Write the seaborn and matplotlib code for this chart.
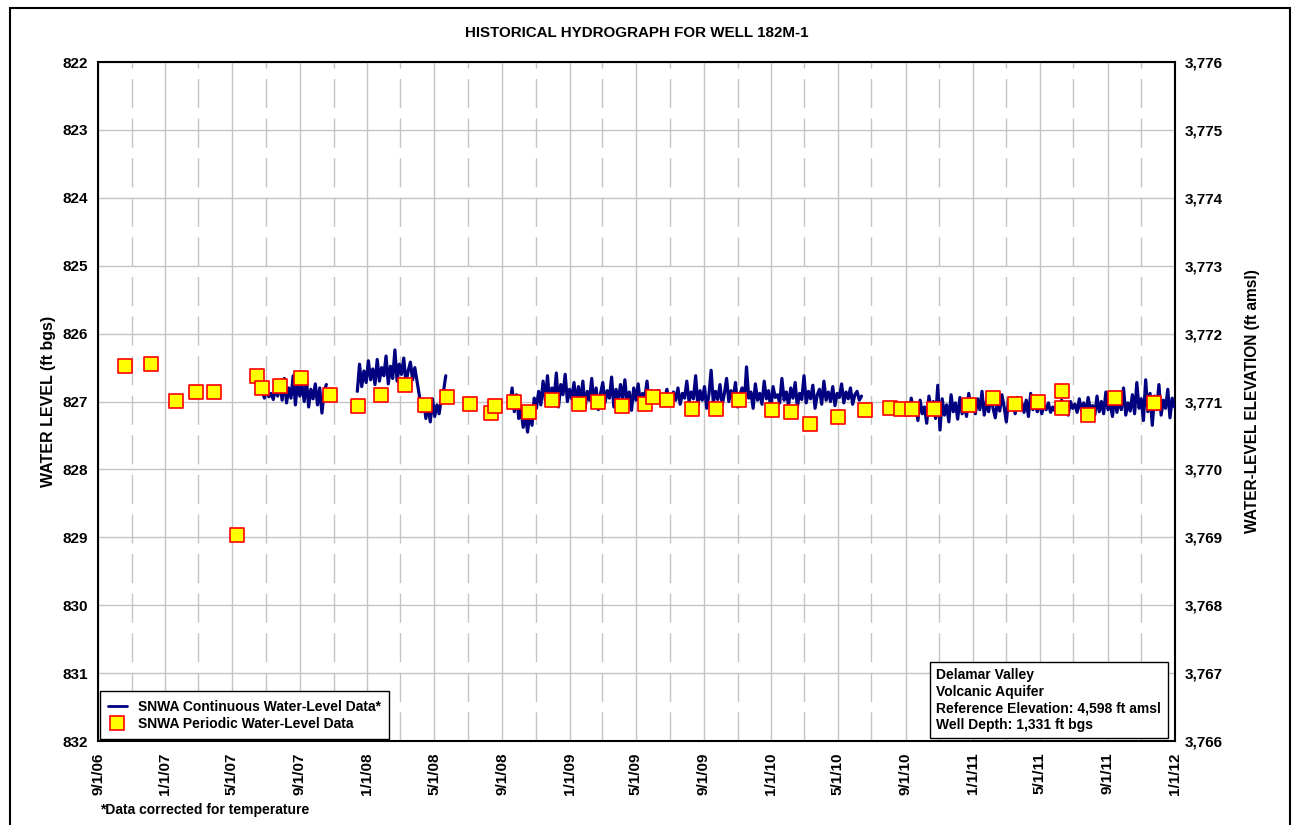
import numpy as np
import pandas as pd
import seaborn as sns
import matplotlib.pyplot as plt
import matplotlib.dates as mdates
from matplotlib.lines import Line2D
from matplotlib.patches import Rectangle
from matplotlib.ticker import FuncFormatter, FixedLocator

sns.set_style('white')
plt.rcParams['font.family'] = ['Liberation Sans', 'DejaVu Sans']
plt.rcParams['font.weight'] = 'bold'
for key in ['text.color', 'axes.labelcolor', 'xtick.color', 'ytick.color']:
    plt.rcParams[key] = 'black'

ref_elevation = 4598

# periodic (manual) water-level measurements, ft bgs
periodic_dates = [
    '2006-10-20', '2006-12-05', '2007-01-20', '2007-02-25', '2007-03-29',
    '2007-05-10', '2007-06-15', '2007-06-25', '2007-07-27', '2007-09-03',
    '2007-10-26', '2007-12-16', '2008-01-25', '2008-03-10', '2008-04-14',
    '2008-05-25', '2008-07-04', '2008-08-11', '2008-08-19', '2008-09-22',
    '2008-10-19', '2008-12-01', '2009-01-18', '2009-02-22', '2009-04-06',
    '2009-05-18', '2009-06-01', '2009-06-27', '2009-08-10', '2009-09-22',
    '2009-11-03', '2010-01-02', '2010-02-06', '2010-03-12', '2010-05-01',
    '2010-06-19', '2010-08-03', '2010-08-24', '2010-09-12', '2010-10-22',
    '2010-12-24', '2011-02-06', '2011-03-18', '2011-04-28', '2011-06-10',
    '2011-06-10', '2011-07-28', '2011-09-15', '2011-11-25',
]
periodic_levels = [
    826.47, 826.45, 826.99, 826.86, 826.86,
    828.97, 826.62, 826.80, 826.77, 826.65,
    826.90, 827.07, 826.90, 826.76, 827.05,
    826.93, 827.04, 827.17, 827.07, 827.00,
    827.16, 826.98, 827.04, 827.01, 827.06,
    827.04, 826.93, 826.98, 827.11, 827.11,
    826.98, 827.13, 827.16, 827.33, 827.23,
    827.13, 827.10, 827.11, 827.11, 827.11,
    827.05, 826.95, 827.04, 827.00, 826.85,
    827.10, 827.20, 826.95, 827.02,
]

# continuous transducer record, read every 4 days, in four deployments
seg_step = '4D'
seg1_start = '2007-06-25'
seg1_levels = [
    826.85, 826.95, 826.82, 826.93, 826.88, 826.97, 826.80, 826.92,
    826.72, 826.98, 826.66, 827.02, 826.80, 826.95, 826.62, 827.05,
    826.70, 826.92, 826.76, 827.00, 826.68, 827.08, 826.82, 826.96,
    826.74, 827.05, 826.80, 827.17, 826.85, 826.75,
]
seg2_start = '2007-12-14'
seg2_levels = [
    826.85, 826.45, 826.78, 826.55, 826.72, 826.40, 826.68, 826.52,
    826.75, 826.38, 826.70, 826.50, 826.62, 826.33, 826.74, 826.48,
    826.66, 826.24, 826.70, 826.45, 826.60, 826.36, 826.72, 826.55,
    826.42, 826.68, 826.50, 826.70,
    826.90, 827.15, 826.98, 827.25, 827.05, 827.30, 826.96, 827.22,
    827.05, 827.18, 826.95, 826.85, 826.62,
]
seg3_start = '2008-09-15'
seg3_levels = [
    827.05, 826.80, 827.15, 826.90, 827.25, 827.10, 827.38, 827.20,
    827.45, 827.15, 827.35, 826.95,
    827.10, 826.85, 827.05, 826.70, 826.98, 826.62, 827.02, 826.80,
    826.95, 826.58, 827.08, 826.75, 826.90, 826.60, 827.00, 826.82,
    826.96, 826.72, 827.04,
    826.78, 827.00, 826.70, 827.10, 826.85, 826.98, 826.66, 827.05,
    826.80, 827.12, 826.88, 826.72, 827.02, 826.84, 826.95, 826.64,
    827.08, 826.82, 827.00, 826.75, 826.96, 826.68, 827.04, 826.86,
    827.13, 826.80, 826.98, 826.74, 827.02, 826.88, 826.96, 826.70,
    827.05, 826.84,
    826.88, 826.98, 826.84, 827.00, 826.90, 826.96, 826.82, 827.02,
    826.92, 826.86, 826.98, 826.80, 827.04, 826.88, 826.95, 826.70,
    827.00, 826.86, 826.96, 826.62, 827.06, 826.84, 826.98, 826.78,
    827.10, 826.90, 826.54, 827.02, 826.85, 826.97, 826.75, 827.05,
    826.88, 826.66, 827.00, 826.84, 826.96, 826.72, 827.08, 826.90,
    826.80, 827.02, 826.49, 826.95, 826.86, 827.10, 826.74, 826.98,
    826.88, 827.04, 826.70, 826.96, 826.84, 827.12, 826.78, 826.94,
    826.90, 827.02, 826.66, 826.98, 826.86, 827.06, 826.80, 826.95,
    826.72, 827.08, 826.88, 826.97, 826.62, 827.02, 826.85, 826.96,
    826.76, 827.10, 826.90, 826.82, 827.04, 826.70, 826.98, 826.86,
    827.00, 826.78, 827.06, 826.88, 826.94, 826.74, 827.02, 826.86,
    826.96, 826.80, 827.04, 826.90, 826.85, 826.98, 826.92,
]
seg4_start = '2010-09-03'
seg4_levels = [
    827.05, 827.20, 826.95, 827.15, 827.02, 827.28, 826.98, 827.18,
    827.08, 827.32, 826.92, 827.12, 827.00, 827.25, 826.76, 827.42,
    826.96, 827.20, 827.05, 827.30, 826.90, 827.15, 827.02, 827.26,
    826.94, 827.18, 827.06, 827.22, 826.88, 827.12,
    827.02, 827.18, 826.96, 827.12, 826.85, 827.20, 827.00, 827.15,
    826.92, 827.10, 827.24, 826.98, 827.14, 826.90, 827.08, 827.30,
    826.96, 827.12, 827.04, 827.18, 826.94, 827.10, 827.02, 827.16,
    826.98, 827.22, 826.88, 827.12, 827.05, 827.15, 827.00, 827.18,
    827.06, 827.12, 827.02, 827.16, 827.08, 827.14, 827.04, 827.18,
    826.98, 827.12, 827.06, 827.20, 827.00, 827.10, 827.04, 827.16,
    826.96, 827.14, 827.02, 827.18, 826.94, 827.12, 827.06, 827.20,
    826.92, 827.15, 827.00, 827.18, 826.86, 827.12, 827.04, 827.22,
    826.90, 827.16, 826.98, 827.12, 826.80, 827.20, 827.02, 827.14,
    826.90, 827.18, 826.72, 827.10, 826.96, 827.28, 826.68, 827.15,
    826.88, 827.35, 826.92, 827.12, 826.75, 827.20, 826.98, 827.10,
    826.82, 827.24, 826.95, 827.08,
]

segments = [(seg1_start, seg1_levels), (seg2_start, seg2_levels),
            (seg3_start, seg3_levels), (seg4_start, seg4_levels)]
frames = []
for i, (start, vals) in enumerate(segments):
    frames.append(pd.DataFrame({
        'date': pd.date_range(start, periods=len(vals), freq=seg_step),
        'level': vals,
        'segment': i,
    }))
cont = pd.concat(frames, ignore_index=True)
periodic = pd.DataFrame({'date': pd.to_datetime(periodic_dates),
                         'level': periodic_levels})

fig = plt.figure(figsize=(12.95, 8.25), dpi=100)
ax = fig.add_axes([0.0757, 0.1018, 0.8316, 0.823])

sns.lineplot(data=cont, x='date', y='level', units='segment', estimator=None,
             sort=False, color='#000080', lw=2.3, ax=ax, legend=False, zorder=3)
sns.scatterplot(data=periodic, x='date', y='level', marker='s', s=88,
                color='#FFFF00', edgecolor='#FF0000', linewidth=1.2,
                ax=ax, legend=False, zorder=4)

ax.set_xlim(pd.Timestamp('2006-09-01'), pd.Timestamp('2012-01-01'))
ax.set_ylim(832, 822)
ax.set_yticks(range(822, 833))
ax.xaxis.set_major_locator(mdates.MonthLocator(bymonth=(1, 5, 9)))
ax.xaxis.set_minor_locator(mdates.MonthLocator(bymonth=(3, 7, 11)))
ax.xaxis.set_major_formatter(FuncFormatter(
    lambda v, p: (lambda d: f'{d.month}/{d.day}/{d.year % 100:02d}')(mdates.num2date(v))))

gc = '#c4c4c4'
ax.grid(False)
ax.grid(which='major', color=gc, lw=1.0)
ax.grid(which='minor', axis='x', color=gc, lw=1.0, linestyle=(0, (21, 7.5)))
ax.set_axisbelow(True)

ax.tick_params(axis='both', which='both', length=0, labelsize=11)
ax.tick_params(axis='x', rotation=90, pad=8)
ax.tick_params(axis='y', pad=7)
ax.set_xlabel('')
ax.set_ylabel('WATER LEVEL (ft bgs)', fontsize=11.5, fontweight='bold', labelpad=5)
for s in ax.spines.values():
    s.set_color('black')
    s.set_linewidth(1.5)

ax2 = ax.twinx()
ax2.set_ylim(ref_elevation - 832, ref_elevation - 822)
ax2.yaxis.set_major_locator(FixedLocator(range(ref_elevation - 832, ref_elevation - 821)))
ax2.yaxis.set_major_formatter(FuncFormatter(lambda v, p: f'{int(v):,}'))
ax2.tick_params(axis='y', length=0, labelsize=11, pad=7)
ax2.set_ylabel('WATER-LEVEL ELEVATION (ft amsl)', fontsize=11.2,
               fontweight='bold', labelpad=16)
ax2.grid(False)
for s in ax2.spines.values():
    s.set_visible(False)

handles = [
    Line2D([], [], color='#000080', lw=2),
    Line2D([], [], marker='s', ls='none', markersize=9.5,
           markerfacecolor='#FFFF00', markeredgecolor='#FF0000', markeredgewidth=1.2),
]
leg = ax.legend(handles, ['SNWA Continuous Water-Level Data*',
                          'SNWA Periodic Water-Level Data'],
                loc='lower left', bbox_to_anchor=(0.0, 0.0), borderaxespad=0.15,
                fancybox=False, framealpha=1, edgecolor='black',
                prop={'size': 10, 'weight': 'bold'}, handlelength=1.3,
                handletextpad=0.8, labelspacing=0.2, borderpad=0.6)
leg.get_frame().set_linewidth(1.0)
leg.set_zorder(10)

info = ('Delamar Valley\nVolcanic Aquifer\n'
        'Reference Elevation: 4,598 ft amsl\nWell Depth: 1,331 ft bgs')
ax.text(0.7785, 0.013, info, transform=ax.transAxes, fontsize=10,
        fontweight='bold', ha='left', va='bottom', linespacing=1.25, zorder=10,
        bbox=dict(boxstyle='square,pad=0.45', facecolor='white',
                  edgecolor='black', linewidth=1.0))

fig.text(0.4915, 0.96, 'HISTORICAL HYDROGRAPH FOR WELL 182M-1', ha='center',
         va='center', fontsize=10.9, fontweight='bold')
fig.text(0.077, 0.018, '*Data corrected for temperature', ha='left',
         va='center', fontsize=10, fontweight='bold')

fig.patches.append(Rectangle((10 / 1295, -0.02), 1280 / 1295, 1.02 - 8 / 825,
                             transform=fig.transFigure, fill=False,
                             edgecolor='black', lw=1.5, clip_on=False))

fig.savefig('out.png', dpi=100)
